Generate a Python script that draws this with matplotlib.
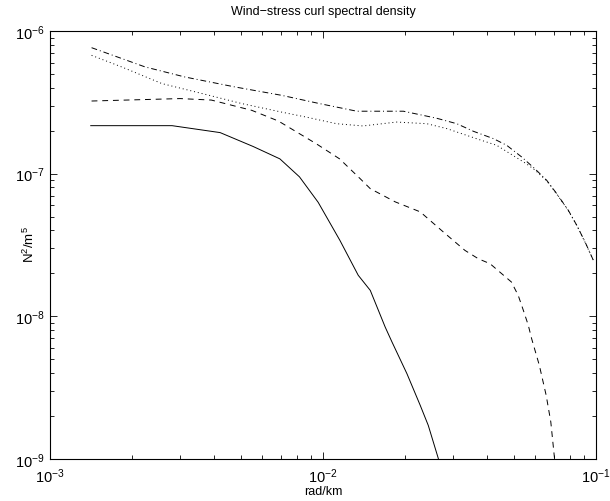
import matplotlib
matplotlib.use("Agg")
import matplotlib.pyplot as plt
from matplotlib.ticker import LogLocator, NullFormatter

plt.rcParams['font.family'] = ['Liberation Sans', 'DejaVu Sans']
plt.rcParams['mathtext.fontset'] = 'custom'
plt.rcParams['mathtext.rm'] = 'Liberation Sans'
plt.rcParams['mathtext.it'] = 'Liberation Sans'
plt.rcParams['mathtext.bf'] = 'Liberation Sans:bold'

# Solid curve
solid_x = [1.41e-3, 2.8e-3, 4.2e-3, 5.55e-3, 6.95e-3, 8.2e-3, 9.6e-3, 1.153e-2, 1.346e-2,
           1.49e-2, 1.69e-2, 1.79e-2, 2.03e-2, 2.27e-2, 2.43e-2, 2.64e-2, 2.76e-2]
solid_y = [2.17e-7, 2.17e-7, 1.94e-7, 1.55e-7, 1.27e-7, 9.5e-8, 6.3e-8, 3.41e-8, 1.94e-8,
           1.52e-8, 8.4e-9, 6.6e-9, 3.96e-9, 2.38e-9, 1.72e-9, 1.02e-9, 7.5e-10]

# Dashed curve
dashed_x = [1.42e-3, 3.0e-3, 3.9e-3, 5.48e-3, 6.86e-3, 9.45e-3, 1.15e-2, 1.37e-2, 1.49e-2,
            1.84e-2, 2.27e-2, 2.76e-2, 3.31e-2, 3.71e-2, 4.09e-2, 4.9e-2, 5.19e-2, 5.42e-2,
            5.65e-2, 5.81e-2, 6.2e-2, 6.57e-2, 6.83e-2, 7.04e-2, 7.15e-2]
dashed_y = [3.23e-7, 3.36e-7, 3.28e-7, 2.78e-7, 2.34e-7, 1.62e-7, 1.27e-7, 9.2e-8, 7.85e-8,
            6.34e-8, 5.4e-8, 3.9e-8, 2.9e-8, 2.53e-8, 2.34e-8, 1.74e-8, 1.4e-8, 1.1e-8,
            8.65e-9, 6.98e-9, 4.54e-9, 2.79e-9, 1.82e-9, 1.03e-9, 7.0e-10]

# Dotted curve
dotted_x = [1.42e-3, 1.83e-3, 2.57e-3, 3.7e-3, 5.04e-3, 7.06e-3, 8.7e-3, 1.12e-2, 1.40e-2,
            1.86e-2, 2.4e-2, 2.84e-2, 3.71e-2, 4.33e-2, 5.57e-2, 5.98e-2, 6.6e-2, 7.18e-2,
            7.92e-2, 8.5e-2, 9.12e-2, 9.78e-2]
dotted_y = [6.75e-7, 5.6e-7, 4.28e-7, 3.6e-7, 3.1e-7, 2.7e-7, 2.49e-7, 2.24e-7, 2.16e-7,
            2.3e-7, 2.24e-7, 2.07e-7, 1.74e-7, 1.58e-7, 1.17e-7, 1.06e-7, 8.9e-8, 7.2e-8,
            5.5e-8, 4.35e-8, 3.3e-8, 2.47e-8]

# Dash-dot curve
dashdot_x = [1.42e-3, 2.23e-3, 3.12e-3, 4.77e-3, 7.06e-3, 9.7e-3, 1.33e-2, 1.97e-2, 2.6e-2,
             3.09e-2, 3.56e-2, 4.21e-2, 4.71e-2, 5.34e-2, 5.98e-2, 6.6e-2, 7.18e-2, 7.92e-2,
             8.5e-2, 9.12e-2, 9.78e-2]
dashdot_y = [7.64e-7, 5.6e-7, 4.76e-7, 4.05e-7, 3.54e-7, 3.1e-7, 2.74e-7, 2.74e-7, 2.45e-7,
             2.24e-7, 1.98e-7, 1.76e-7, 1.58e-7, 1.31e-7, 1.08e-7, 8.98e-8, 7.24e-8, 5.53e-8,
             4.35e-8, 3.32e-8, 2.47e-8]

title = "Wind\u2212stress curl spectral density"
xlabel = "rad/km"
ylabel = r"N$^2$/m$^5$"

fig = plt.figure(figsize=(6.1, 5.02), dpi=100)
ax = fig.add_axes([50/610, 1 - 460/502, 546/610, 428/502])

lw = 0.7
ax.loglog(solid_x, solid_y, color='black', lw=lw, linestyle='-')
ax.loglog(dashed_x, dashed_y, color='black', lw=lw, linestyle=(0, (6, 5)))
ax.loglog(dotted_x, dotted_y, color='black', lw=lw, linestyle=(0, (1, 3)))
ax.loglog(dashdot_x, dashdot_y, color='black', lw=lw, linestyle=(0, (6, 3, 1, 3)))

ax.set_xlim(1e-3, 1e-1)
ax.set_ylim(1e-9, 1e-6)

ax.xaxis.set_major_locator(LogLocator(base=10, numticks=10))
ax.yaxis.set_major_locator(LogLocator(base=10, numticks=10))
ax.xaxis.set_minor_locator(LogLocator(base=10, subs=range(2, 10), numticks=20))
ax.yaxis.set_minor_locator(LogLocator(base=10, subs=range(2, 10), numticks=20))
ax.xaxis.set_minor_formatter(NullFormatter())
ax.yaxis.set_minor_formatter(NullFormatter())

ax.tick_params(which='both', direction='in', top=True, right=True, labelsize=10.5, width=0.6)
ax.tick_params(which='major', length=5)
ax.tick_params(which='minor', length=3)
ax.tick_params(axis='x', pad=5)
ax.tick_params(axis='y', pad=4)
for s in ax.spines.values():
    s.set_linewidth(0.8)

ax.text(0.5, (460 - 12) / 428, title, transform=ax.transAxes, ha='center', va='center', fontsize=9)
ax.set_xlabel(xlabel, fontsize=9)
ax.xaxis.set_label_coords(0.5, (460 - 492) / 428)
ax.xaxis.label.set_va('center')
ax.set_ylabel(ylabel, fontsize=9.5)
ax.yaxis.set_label_coords((29 - 50) / 546, (460 - 245) / 428)
ax.yaxis.label.set_va('center')

fig.savefig("out.png", dpi=100)
